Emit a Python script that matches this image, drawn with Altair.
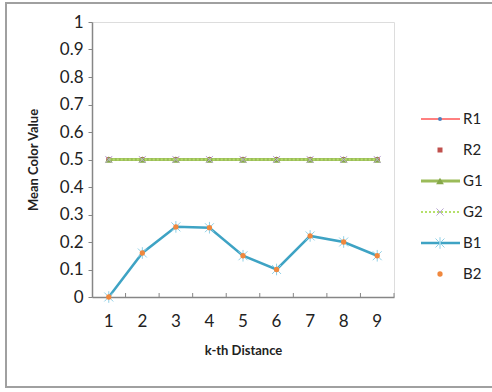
import altair as alt
import pandas as pd

# ---- data ----
k_values = [1, 2, 3, 4, 5, 6, 7, 8, 9]
R1 = [0.5, 0.5, 0.5, 0.5, 0.5, 0.5, 0.5, 0.5, 0.5]
R2 = [0.5, 0.5, 0.5, 0.5, 0.5, 0.5, 0.5, 0.5, 0.5]
G1 = [0.5, 0.5, 0.5, 0.5, 0.5, 0.5, 0.5, 0.5, 0.5]
G2 = [0.5, 0.5, 0.5, 0.5, 0.5, 0.5, 0.5, 0.5, 0.5]
B1 = [0.0, 0.16, 0.255, 0.252, 0.15, 0.1, 0.222, 0.2, 0.15]
B2 = [0.0, 0.16, 0.255, 0.252, 0.15, 0.1, 0.222, 0.2, 0.15]
series_names = ["R1", "R2", "G1", "G2", "B1", "B2"]
y_ticks = [0, 0.1, 0.2, 0.3, 0.4, 0.5, 0.6, 0.7, 0.8, 0.9, 1]

df = pd.DataFrame({"k": k_values, "R1": R1, "R2": R2, "G1": G1, "G2": G2, "B1": B1, "B2": B2})

FONT = "Lato"
XSCALE = alt.Scale(type="band", paddingInner=0, paddingOuter=0, domain=k_values)
YSCALE = alt.Scale(domain=[0, 1], nice=False, zero=False)

main_x_axis = alt.Axis(
    orient="bottom",
    title="k-th Distance", titleFont=FONT, titleFontSize=13, titleFontWeight="bold",
    titleColor="#222", titlePadding=15, labelFont=FONT, labelFontSize=17, labelColor="#222",
    labelAngle=0, labelPadding=16, tickSize=0, domainColor="#868686", domainWidth=1.5,
    grid=False,
)
y_axis = alt.Axis(
    orient="left",
    title="Mean Color Value", titleFont=FONT, titleFontSize=13, titleFontWeight="bold",
    titleColor="#222", titlePadding=19, labelFont=FONT, labelFontSize=17, labelColor="#222",
    labelPadding=5, tickSize=4, tickColor="#868686", domainColor="#868686", domainWidth=1.5,
    values=y_ticks, format=".1~f", grid=False,
)

base = alt.Chart(df)

def xenc(axis=None):
    return alt.X("k:O", scale=XSCALE, axis=axis)

def yenc(field, axis=None):
    return alt.Y(f"{field}:Q", scale=YSCALE, axis=axis)

SQUARE = "square"
XMARK = "M-1,-1L1,1M-1,1L1,-1"
ASTER = "M-1,-1L1,1M-1,1L1,-1M0,-1.3L0,1.3"

r1_line = base.mark_line(color="#ff0000", strokeWidth=1).encode(x=xenc(main_x_axis), y=yenc("R1", y_axis))

# inward x-axis ticks at category boundaries (band edges)
ticks_start = base.transform_filter(alt.datum.k > 1).mark_rule(color="#868686", strokeWidth=1).encode(
    x=alt.X("k:O", scale=XSCALE, axis=None, bandPosition=0), y=alt.value(271), y2=alt.value(275)
)
ticks_end = base.transform_filter(alt.datum.k == 9).mark_rule(color="#868686", strokeWidth=1).encode(
    x=alt.X("k:O", scale=XSCALE, axis=None, bandPosition=1), y=alt.value(271), y2=alt.value(275)
)

r1_pts = base.mark_point(filled=True, color="#4f81bd", size=16, opacity=1).encode(x=xenc(), y=yenc("R1"))
r2_pts = base.mark_point(filled=True, shape=SQUARE, color="#c0504d", size=25, opacity=1).encode(x=xenc(), y=yenc("R2"))
g1_line = base.mark_line(color="#9bbb59", strokeWidth=3).encode(x=xenc(), y=yenc("G1"))
g1_pts = base.mark_point(filled=True, shape="triangle-up", color="#86a84a", size=60, opacity=1).encode(x=xenc(), y=yenc("G1"))
g2_line = base.mark_line(color="#b5e06a", strokeWidth=2, strokeDash=[2, 2]).encode(x=xenc(), y=yenc("G2"))
g2_pts = base.mark_point(filled=False, shape=XMARK, color="#b9a7d2", size=50, strokeWidth=1, opacity=1).encode(x=xenc(), y=yenc("G2"))
b1_line = base.mark_line(color="#3ea3c4", strokeWidth=2.5).encode(x=xenc(), y=yenc("B1"))
b1_pts = base.mark_point(filled=False, shape=ASTER, color="#8fd0e6", size=80, strokeWidth=1, opacity=1).encode(x=xenc(), y=yenc("B1"))
b2_pts = base.mark_point(filled=True, color="#f0883e", size=28, opacity=1).encode(x=xenc(), y=yenc("B2"))

border = alt.Chart(pd.DataFrame({"a": [0]})).mark_rect(
    fill="white", fillOpacity=0, stroke="#a0a0a0", strokeWidth=2
).encode(x=alt.value(-86), x2=alt.value(420), y=alt.value(-19), y2=alt.value(365))

# ---- legend (drawn as layers, y positioned by a point scale of its own) ----
LSCALE = alt.Scale(type="point", domain=series_names, range=[97, 252], padding=0)
leg_df = pd.DataFrame({"series": series_names})
lbase = alt.Chart(leg_df)

def ly():
    return alt.Y("series:N", scale=LSCALE, axis=None)

def lfilter(names):
    return alt.FieldOneOfPredicate(field="series", oneOf=names)

LX1, LX2, LXM, LXT = 329, 368, 348, 371

leg_lines = (
    lbase.transform_filter(lfilter(["R1"])).mark_rule(color="#ff0000", strokeWidth=1).encode(x=alt.value(LX1), x2=alt.value(LX2), y=ly()),
    lbase.transform_filter(lfilter(["G1"])).mark_rule(color="#9bbb59", strokeWidth=3).encode(x=alt.value(LX1), x2=alt.value(LX2), y=ly()),
    lbase.transform_filter(lfilter(["G2"])).mark_rule(color="#b5e06a", strokeWidth=2, strokeDash=[2, 2]).encode(x=alt.value(LX1), x2=alt.value(LX2), y=ly()),
    lbase.transform_filter(lfilter(["B1"])).mark_rule(color="#3ea3c4", strokeWidth=2.5).encode(x=alt.value(LX1), x2=alt.value(LX2), y=ly()),
)
leg_pts = (
    lbase.transform_filter(lfilter(["R1"])).mark_point(filled=True, color="#4f81bd", size=16, opacity=1).encode(x=alt.value(LXM), y=ly()),
    lbase.transform_filter(lfilter(["R2"])).mark_point(filled=True, shape=SQUARE, color="#c0504d", size=25, opacity=1).encode(x=alt.value(LXM), y=ly()),
    lbase.transform_filter(lfilter(["G1"])).mark_point(filled=True, shape="triangle-up", color="#86a84a", size=60, opacity=1).encode(x=alt.value(LXM), y=ly()),
    lbase.transform_filter(lfilter(["G2"])).mark_point(filled=False, shape=XMARK, color="#b9a7d2", size=50, strokeWidth=1, opacity=1).encode(x=alt.value(LXM), y=ly()),
    lbase.transform_filter(lfilter(["B1"])).mark_point(filled=False, shape=ASTER, color="#8fd0e6", size=80, strokeWidth=1, opacity=1).encode(x=alt.value(LXM), y=ly()),
    lbase.transform_filter(lfilter(["B2"])).mark_point(filled=True, color="#f0883e", size=28, opacity=1).encode(x=alt.value(LXM), y=ly()),
)
leg_text = lbase.mark_text(align="left", baseline="middle", font=FONT, fontSize=15, color="#222").encode(
    x=alt.value(LXT), y=ly(), text="series:N"
)

chart = alt.layer(
    border, r1_line, ticks_start, ticks_end,
    r1_pts, r2_pts, g1_line, g1_pts, g2_line, g2_pts, b1_line, b1_pts, b2_pts,
    *leg_lines, *leg_pts, leg_text,
).resolve_scale(y="independent").resolve_axis(x="independent", y="independent").properties(
    width=302, height=275,
    autosize=alt.AutoSizeParams(type="none"),
    padding={"left": 92, "top": 22, "right": 98, "bottom": 95},
).configure_view(strokeWidth=0, stroke="transparent").configure(background="white")

chart.save("out.html", embed_options={"renderer": "svg", "actions": False})
